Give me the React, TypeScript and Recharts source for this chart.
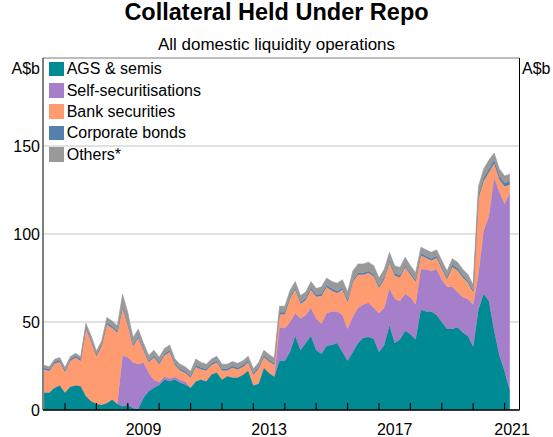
import React from 'react';
import { AreaChart, Area, XAxis, YAxis, CartesianGrid, ReferenceLine } from 'recharts';

// first observation May 2006, then one every second month
const startYear = 2006;
const startMonth = 5;

// A$b
const ags = [10, 10, 12.6, 14, 10, 13.2, 14, 13.6, 8, 5,
  3.5, 3, 4, 6, 3.5, 2, 3, 1, 0.5, 7,
  10.7, 12.6, 14.2, 17.4, 16.4, 17.4, 15.5, 14.5, 12.6, 16.4,
  17.4, 16.4, 20.3, 21.3, 17.4, 19.3, 18.5, 18.5, 20, 22.5,
  14, 15, 24, 21, 19, 28, 28, 33, 42, 34,
  38, 42, 34, 32, 36.5, 37, 38, 33, 28, 33,
  38, 41, 41.5, 40.5, 33, 37, 48, 38, 40, 45,
  43, 40, 57, 56, 56, 54, 50, 46, 46, 47,
  44, 42, 36, 57, 66, 62, 45, 31, 22, 11];
const selfSec = [0, 0, 0, 0, 0, 0, 0, 0, 0, 0,
  0, 0, 0, 0, 0, 29, 27, 26, 25.5, 20,
  10.3, 4.4, 1.5, 1.5, 1.5, 1.5, 1.5, 1.5, 0, 0,
  0, 0, 0, 0, 0, 0, 0, 0, 0, 0,
  0, 0, 0, 0, 0, 19, 18.5, 17, 13, 18,
  16, 16, 18, 17, 18.5, 19, 18, 21, 18, 20,
  20, 19, 19.5, 17.5, 22, 21, 21, 25, 22, 21,
  21, 20, 23, 24, 23, 26, 24, 24, 24, 20,
  20, 21, 24, 20, 36, 48, 87, 93, 95, 112];
const bank = [12.9, 12.1, 13.7, 13.3, 11.6, 14.6, 15.7, 14.2, 38.3, 34.1,
  27, 33.2, 44.6, 40.6, 40.4, 26.8, 18.4, 9.2, 14.9, 7,
  6, 13, 10.3, 12.1, 15.1, 6.6, 5.5, 5, 5.9, 8.1,
  5.6, 6.1, 5.2, 5.7, 5.1, 3.2, 5.5, 4.5, 4.5, 4.5,
  6, 8.5, 6, 6.5, 6.5, 7.3, 7.8, 13.3, 13.3, 8.3,
  8.3, 10.3, 12.3, 15.8, 14.8, 11.8, 10.3, 14.3, 15.3, 19.8,
  18.8, 16.8, 16.8, 17.8, 14.3, 16.3, 14.8, 13.3, 13.3, 15.1,
  12.8, 12.8, 7.8, 6.3, 5.9, 6.3, 6.3, 4.3, 11.3, 12.3,
  11.3, 9.3, 6.8, 43, 28, 25, 8, 7, 10, 5];
const corp = [1, 1, 1, 1, 1, 1, 1, 1, 1, 1,
  1, 1, 1, 1, 1, 1, 1, 1, 1, 1,
  1, 1, 1, 1, 1, 1, 1, 1, 1, 1,
  1, 1, 1, 1, 1, 1, 1, 1, 1, 1,
  1, 1, 1, 1, 1, 1.2, 1.2, 1.2, 1.2, 1.2,
  1.2, 1.2, 1.2, 1.2, 1.2, 1.2, 1.2, 1.2, 1.2, 1.2,
  1.2, 1.2, 1.2, 1.2, 1.2, 1.2, 1.2, 1.2, 1.2, 1.2,
  1.2, 1.2, 1.2, 1.2, 1.2, 1.2, 1.2, 1.2, 1.2, 1.2,
  1.2, 1.2, 1.2, 2, 2, 2, 2, 2, 2, 2];
const others = [1.5, 1.5, 1.5, 1.5, 1.5, 1.5, 1.5, 1.5, 2, 2,
  2, 2, 3, 3, 3, 7, 6, 4, 4, 3,
  3, 3, 3, 3, 3, 2.5, 2.5, 2.5, 2.5, 3.5,
  3, 2.5, 2.5, 2.5, 2.5, 2.5, 2.5, 2.5, 2.5, 2.5,
  2.5, 2.5, 3, 3, 3, 3.5, 3.5, 3.5, 3.5, 3.5,
  3.5, 3.5, 3.5, 4, 4, 4, 4.5, 4.5, 4.5, 5,
  5, 5, 5, 5, 4.5, 4.5, 4.5, 4.5, 4.5, 4.5,
  4, 4, 3.5, 3.5, 3.5, 3.5, 3.5, 3.5, 3.5, 3.5,
  3.5, 3.5, 3, 5, 5, 5, 4, 4, 4, 4];

const yearTicks = [2007, 2008, 2009, 2010, 2011, 2012, 2013, 2014, 2015, 2016, 2017, 2018, 2019, 2020, 2021];
const labelYears = [2009, 2013, 2017, 2021];
const valueTicks = [0, 50, 100, 150];

const series = [
  { key: 'ags', name: 'AGS & semis', color: '#008B94' },
  { key: 'selfSec', name: 'Self-securitisations', color: '#A67FCA' },
  { key: 'bank', name: 'Bank securities', color: '#FF9B70' },
  { key: 'corp', name: 'Corporate bonds', color: '#5580AD' },
  { key: 'others', name: 'Others*', color: '#999999' },
];

const data = ags.map((v, i) => ({
  t: startYear + (startMonth - 1 + 2 * i) / 12,
  ags: v,
  selfSec: selfSec[i],
  bank: bank[i],
  corp: corp[i],
  others: others[i],
}));

const W = 553;
const H = 437;
const PLOT_LEFT = 43;
const PLOT_RIGHT = 519.5;
const PLOT_BOTTOM = 410;
const X_MIN = 2006.2994;
const X_MAX = 2021.4745;
const PX_PER_YEAR = (PLOT_RIGHT - PLOT_LEFT) / (X_MAX - X_MIN);
const FONT = 'Arial, "Liberation Sans", sans-serif';

const YearTick = (props: any) => {
  const { x, payload } = props;
  const year = payload.value;
  const end = Math.min(x + PX_PER_YEAR, PLOT_RIGHT);
  return (
    <g>
      <line x1={x} x2={x} y1={PLOT_BOTTOM} y2={PLOT_BOTTOM - 7} stroke="#000" strokeWidth={1.2} />
      {labelYears.includes(year) && (
        <text x={(x + end) / 2} y={435} textAnchor="middle" fontSize={16} fontFamily={FONT} fill="#000">
          {year}
        </text>
      )}
    </g>
  );
};

export default function App() {
  return (
    <div style={{ position: 'relative', width: W, height: H, background: '#fff', fontFamily: FONT }}>
      <style>{'body{margin:0}'}</style>
      <div style={{ position: 'absolute', left: 0, top: 0.8, width: W, textAlign: 'center', fontSize: 23.5, lineHeight: '23.5px', fontWeight: 'bold' }}>
        Collateral Held Under Repo
      </div>
      <div style={{ position: 'absolute', left: 0, top: 35.6, width: W, textAlign: 'center', fontSize: 17, lineHeight: '17px' }}>
        All domestic liquidity operations
      </div>

      <AreaChart
        width={W}
        height={H}
        data={data}
        margin={{ top: 58, right: 0, bottom: 1, left: 0 }}
      >
        <CartesianGrid yAxisId="l" vertical={false} stroke="#C4C4C4" />
        <XAxis
          dataKey="t"
          type="number"
          domain={[X_MIN, X_MAX]}
          ticks={yearTicks}
          allowDataOverflow
          height={26}
          tickLine={false}
          axisLine={{ stroke: '#000', strokeWidth: 1.5 }}
          tick={<YearTick />}
          interval={0}
        />
        <YAxis
          yAxisId="l"
          domain={[0, 200]}
          ticks={valueTicks}
          width={43}
          tickLine={false}
          tickSize={0}
          tickMargin={3}
          axisLine={{ stroke: '#000' }}
          tick={{ fontSize: 16, fill: '#000', fontFamily: FONT }}
          interval={0}
        />
        <YAxis
          yAxisId="r"
          orientation="right"
          domain={[0, 200]}
          ticks={valueTicks}
          width={33.5}
          tickLine={false}
          tickSize={0}
          tickMargin={3.5}
          axisLine={{ stroke: '#000' }}
          tick={{ fontSize: 16, fill: '#000', fontFamily: FONT }}
          interval={0}
        />
        <ReferenceLine yAxisId="l" y={200} stroke="#999" />
        {series.map((s) => (
          <Area
            key={s.key}
            yAxisId="l"
            dataKey={s.key}
            name={s.name}
            stackId="1"
            type="linear"
            fill={s.color}
            fillOpacity={1}
            stroke={s.color}
            strokeWidth={0.6}
            isAnimationActive={false}
          />
        ))}
      </AreaChart>

      <div style={{ position: 'absolute', left: 0, top: 61.2, width: 40, textAlign: 'right', fontSize: 16, lineHeight: '16px' }}>A$b</div>
      <div style={{ position: 'absolute', left: 522, top: 61.2, fontSize: 16, lineHeight: '16px' }}>A$b</div>

      {series.map((s, i) => (
        <div key={s.key} style={{ position: 'absolute', left: 48.5, top: 61.7 + i * 21.35, display: 'flex', alignItems: 'flex-start' }}>
          <div style={{ width: 15, height: 14.5, background: s.color }} />
          <div style={{ marginLeft: 3.2, marginTop: -0.5, fontSize: 16, lineHeight: '16px' }}>{s.name}</div>
        </div>
      ))}
    </div>
  );
}
